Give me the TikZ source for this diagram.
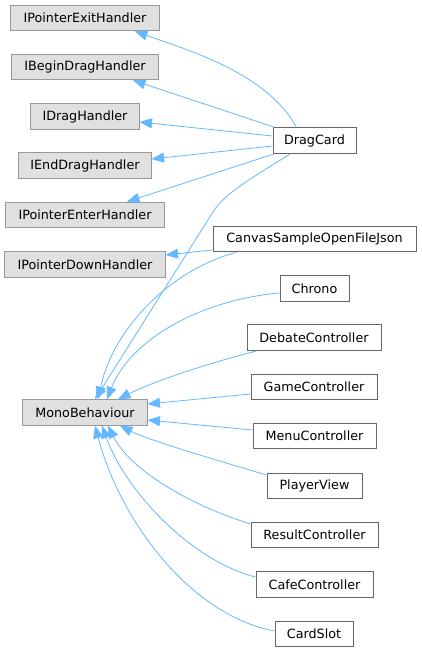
\documentclass[tikz,border=0pt]{standalone}
\usepackage{fontspec}
\setmainfont{DejaVu Sans}
\usetikzlibrary{arrows.meta,calc}
\definecolor{edgeblue}{HTML}{63B8FF}
\definecolor{basefill}{HTML}{E0E0E0}
\definecolor{baseborder}{HTML}{999999}
\definecolor{derborder}{HTML}{666666}
\begin{document}
\begin{tikzpicture}[x=1bp,y=-1bp,
  box/.style={line width=1bp, minimum height=25.5bp, inner sep=0pt,
    font=\fontsize{12.8}{14}\selectfont},
  basebox/.style={box, fill=basefill, draw=baseborder},
  derbox/.style={box, fill=white, draw=derborder},
  inh/.style={draw=edgeblue, line width=0.8bp, -{Triangle[length=12.5bp,width=10bp]}}]
\useasboundingbox (0,0) rectangle (421,652);
% base classes
\node[basebox, minimum width=148bp] (ipexit) at (85,18) {IPointerExitHandler};
\node[basebox, minimum width=146bp] (ibegin) at (85,67) {IBeginDragHandler};
\node[basebox, minimum width=108bp] (idrag) at (85,116.5) {IDragHandler};
\node[basebox, minimum width=132bp] (iend) at (85,165.5) {IEndDragHandler};
\node[basebox, minimum width=158bp] (ienter) at (85,215) {IPointerEnterHandler};
\node[basebox, minimum width=160bp] (idown) at (85,264.5) {IPointerDownHandler};
\node[basebox, minimum width=124bp] (mono) at (85,412.5) {MonoBehaviour};
% derived classes
\node[derbox, minimum width=83bp] (dragcard) at (314.5,140.5) {DragCard};
\node[derbox, minimum width=203bp] (canvas) at (314.5,239) {CanvasSampleOpenFileJson};
\node[derbox, minimum width=69bp] (chrono) at (314.5,288.5) {Chrono};
\node[derbox, minimum width=134bp] (debate) at (314,337.5) {DebateController};
\node[derbox, minimum width=126bp] (game) at (314,387) {GameController};
\node[derbox, minimum width=123bp] (menu) at (314.5,436) {MenuController};
\node[derbox, minimum width=95bp] (player) at (314.5,486) {PlayerView};
\node[derbox, minimum width=127bp] (result) at (314.5,535) {ResultController};
\node[derbox, minimum width=117bp] (cafe) at (314.5,584.5) {CafeController};
\node[derbox, minimum width=78bp] (cardslot) at (314,634) {CardSlot};
% edges from DragCard
\draw[inh] ($(dragcard.north west)+(24,0)$) .. controls +(-30,-55) and +(50,18) .. ($(ipexit.south)+(50,0)$);
\draw[inh] ($(dragcard.north west)+(2,0)$) -- ($(ibegin.south)+(48,0)$);
\draw[inh] ($(dragcard.west)+(0,-4.5)$) -- ($(idrag.east)+(0,5.5)$);
\draw[inh] ($(dragcard.west)+(0,5.5)$) -- ($(iend.east)+(0,-6.5)$);
\draw[inh] ($(dragcard.south west)+(2,0)$) -- ($(ienter.north)+(42,0)$);
\draw[inh] ($(dragcard.south west)+(18,0)$) .. controls +(-35,22) and +(12,-20) .. ++(-78,59) -- ($(mono.north)+(10,0)$);
% edges from CanvasSampleOpenFileJson
\draw[inh] ($(canvas.west)+(0,11)$) -- ($(idown.east)+(0,-9.5)$);
\draw[inh] ($(canvas.south west)+(24,0)$) .. controls +(-67,18) and +(15,-70) .. ($(mono.north)+(13,0)$);
% other edges into MonoBehaviour
\draw[inh] ($(chrono.west)+(0,4.5)$) .. controls +(-80,7) and +(23,-59) .. ($(mono.north)+(22,0)$);
\draw[inh] ($(debate.south west)+(11,0)$) .. controls +(-40,10) and +(40,-20) .. ($(mono.north)+(33,0)$);
\draw[inh] ($(game.west)+(0,7)$) -- ($(mono.east)+(0,-8.5)$);
\draw[inh] ($(menu.west)+(0,-6)$) -- ($(mono.east)+(0,7.5)$);
\draw[inh] ($(player.west)+(0,-11)$) .. controls +(-50,-15) and +(30,15) .. ($(mono.south)+(35,0)$);
\draw[inh] ($(result.west)+(0,-11)$) .. controls +(-61,-19) and +(22,44) .. ($(mono.south)+(23,0)$);
\draw[inh] ($(cafe.west)+(0,-7.5)$) .. controls +(-66,-17) and +(23,64) .. ($(mono.south)+(17,0)$);
\draw[inh] ($(cardslot.west)+(0,-3)$) .. controls +(-85,-16) and +(25,94) .. ($(mono.south)+(10,0)$);
\end{tikzpicture}
\end{document}
